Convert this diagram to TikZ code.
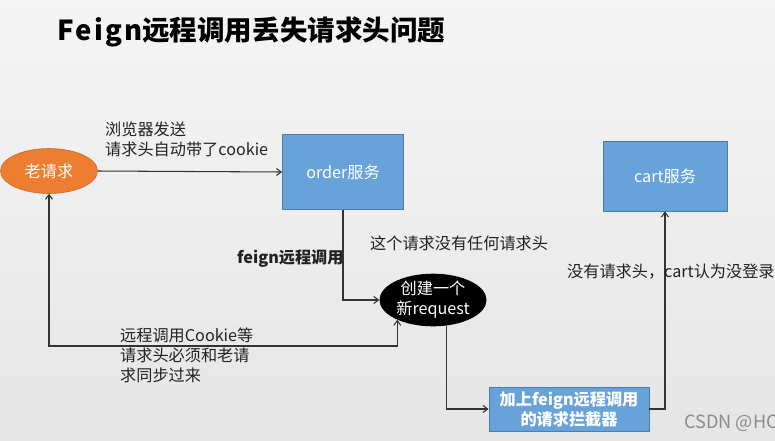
\documentclass[tikz,border=0pt]{standalone}
\usepackage{fontspec}
\setmainfont{Noto Sans CJK SC}
\usetikzlibrary{shapes.geometric,arrows.meta,calc}
\definecolor{boxblue}{HTML}{67A3D8}
\definecolor{boxedge}{HTML}{4A7EB0}
\definecolor{orng}{HTML}{ED7D31}
\definecolor{linec}{HTML}{333333}
\definecolor{txt}{HTML}{222222}
\tikzset{
  body/.style={font=\fontsize{13.8}{17}\selectfont, text=txt, inner sep=0pt},
  bluebox/.style={draw=boxedge, line width=0.8pt, fill=boxblue, text=white, inner sep=0pt},
  conn/.style={draw=linec, line width=0.9pt, -{Straight Barb[length=4pt,width=6pt]}},
}
\begin{document}
\begin{tikzpicture}[x=0.03cm,y=-0.03cm]
\useasboundingbox (0,0) rectangle (775,440);
\clip (0,0) rectangle (775,440);
\shade[top color=white!96!black, bottom color=white!90!black] (0,0) rectangle (775,440);

\node[anchor=west, font=\bfseries\fontsize{23.5}{28}\selectfont, text=black, inner sep=0pt] (title) at (57,32) {{\addfontfeature{LetterSpace=8}Feign}远程调用丢失请求头问题};

\node[ellipse, fill=orng, draw=orng!85!black, line width=0.5pt, minimum width=2.91cm, minimum height=1.35cm, inner sep=0pt, text=white, font=\fontsize{13.8}{16}\selectfont] (old) at (49,171) {老请求};
\node[bluebox, minimum width=3.63cm, minimum height=2.25cm, font=\fontsize{13.8}{16}\selectfont] (order) at (343,172) {order服务};
\node[ellipse, fill=black, minimum width=3.21cm, minimum height=1.41cm, inner sep=0pt, text=white, align=center, font=\fontsize{13.8}{17}\selectfont] (newreq) at (433,300) {创建一个\\新request};
\node[bluebox, minimum width=4.8cm, minimum height=1.32cm, align=center, font=\bfseries\fontsize{13.8}{17}\selectfont] (icpt) at (569,409) {加上feign远程调用\\的请求拦截器};
\node[bluebox, minimum width=3.72cm, minimum height=2.1cm, font=\fontsize{13.8}{16}\selectfont] (cart) at (665,176) {cart服务};

\coordinate (lowL) at (49,346);
\draw[conn] (old.east) -- (order.west);
\draw[conn] (order.south) |- (newreq.west);
\draw[conn, {Straight Barb[length=4pt,width=6pt]}-{Straight Barb[length=4pt,width=6pt]}] (old.south) -- (lowL) -| (newreq.209.3);
\draw[conn] (newreq.297.6) |- (icpt.west);
\draw[conn] (icpt.east) -| (cart.south);

\node[body, anchor=west, align=left] (l1) at (105,139) {浏览器发送\\请求头自动带了cookie};
\node[body, anchor=west, font=\bfseries\fontsize{13.8}{17}\selectfont] (l2) at (237,259) {feign远程调用};
\node[body, anchor=west] (l3) at (370,243) {这个请求没有任何请求头};
\node[body, anchor=west] (l4) at (567,272) {没有请求头，cart认为没登录};
\node[body, anchor=west, align=left] (l5) at (120,355) {远程调用Cookie等\\请求头必须和老请\\求同步过来};
\node[body, anchor=west, text=white!55!black, font=\fontsize{15.5}{18}\selectfont] (wm) at (684,423) {CSDN @HC};
\end{tikzpicture}
\end{document}
